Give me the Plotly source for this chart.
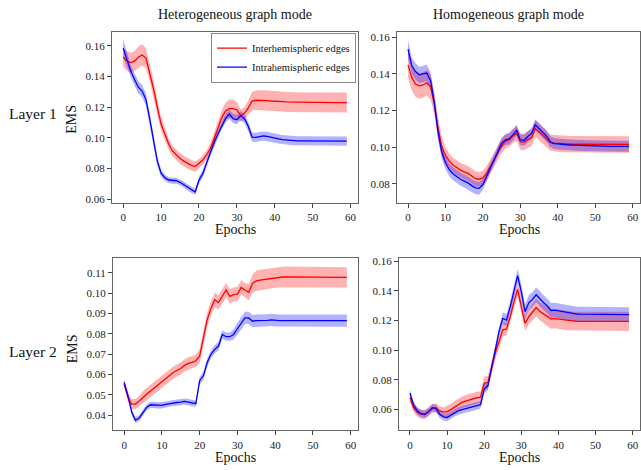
import plotly.graph_objects as go

epochs = list(range(60))

# ---------------- Layer 1, heterogeneous ----------------
l1_het_inter = [0.1525, 0.150, 0.149, 0.150, 0.1525, 0.154, 0.152, 0.1425, 0.132, 0.120,
                0.109, 0.1025, 0.096, 0.0915, 0.089, 0.0865, 0.0848, 0.0832, 0.082, 0.0813,
                0.0832, 0.0855, 0.0888, 0.093, 0.0995, 0.1065, 0.113, 0.1175, 0.119, 0.119,
                0.1183, 0.1145, 0.116, 0.1195, 0.124, 0.1245, 0.1245, 0.1245, 0.1243, 0.124,
                0.124, 0.1238, 0.1236, 0.1234, 0.1233, 0.1232, 0.1231, 0.1231, 0.1231, 0.1231,
                0.1231, 0.1231, 0.123, 0.123, 0.123, 0.123, 0.123, 0.123, 0.123, 0.123]
l1_het_inter_sd = [0.006, 0.0065, 0.0065, 0.0065, 0.007, 0.007, 0.0065, 0.006, 0.0055, 0.005,
                   0.0045, 0.004, 0.0035, 0.0035, 0.0035, 0.0035, 0.0035, 0.0035, 0.0035, 0.0035,
                   0.003, 0.003, 0.003, 0.0035, 0.004, 0.0045, 0.005, 0.0055, 0.006, 0.006,
                   0.005, 0.004, 0.004, 0.0045, 0.006, 0.0063, 0.0065, 0.0065, 0.0065, 0.0065,
                   0.0065, 0.0065, 0.0065, 0.0065, 0.0065, 0.0065, 0.0065, 0.0065, 0.0065, 0.0065,
                   0.0065, 0.0065, 0.0065, 0.0065, 0.0065, 0.0065, 0.0065, 0.0065, 0.0065, 0.0065]
l1_het_intra = [0.1585, 0.151, 0.1435, 0.138, 0.133, 0.1305, 0.125, 0.1125, 0.0975, 0.0848,
                0.077, 0.074, 0.0725, 0.072, 0.072, 0.071, 0.0695, 0.0678, 0.066, 0.0647,
                0.0725, 0.0765, 0.0835, 0.0905, 0.097, 0.1025, 0.108, 0.1125, 0.1155, 0.1125,
                0.1118, 0.1145, 0.1125, 0.1075, 0.1005, 0.1003, 0.1008, 0.1012, 0.101, 0.1003,
                0.0998, 0.0993, 0.0988, 0.0985, 0.0983, 0.0981, 0.098, 0.098, 0.098, 0.0979,
                0.0979, 0.0979, 0.0978, 0.0978, 0.0978, 0.0978, 0.0978, 0.0978, 0.0978, 0.0978]
l1_het_intra_sd = [0.006, 0.0045, 0.004, 0.004, 0.004, 0.004, 0.004, 0.0035, 0.003, 0.003,
                   0.0025, 0.002, 0.002, 0.002, 0.002, 0.002, 0.002, 0.002, 0.002, 0.002,
                   0.0025, 0.0025, 0.0025, 0.0025, 0.0025, 0.0025, 0.0025, 0.0028, 0.003, 0.003,
                   0.003, 0.003, 0.003, 0.003, 0.003, 0.003, 0.003, 0.003, 0.003, 0.003,
                   0.003, 0.003, 0.003, 0.003, 0.003, 0.003, 0.003, 0.003, 0.003, 0.003,
                   0.003, 0.003, 0.003, 0.003, 0.003, 0.003, 0.003, 0.003, 0.003, 0.003]

# ---------------- Layer 1, homogeneous ----------------
l1_hom_inter = [0.145, 0.138, 0.1345, 0.1335, 0.134, 0.1352, 0.133, 0.124, 0.1105, 0.1005,
                0.0955, 0.0925, 0.0903, 0.0888, 0.0875, 0.0865, 0.0857, 0.0843, 0.0828, 0.0825,
                0.0832, 0.0858, 0.0892, 0.093, 0.097, 0.1008, 0.1032, 0.104, 0.1062, 0.1075,
                0.103, 0.1028, 0.1042, 0.1052, 0.1102, 0.1085, 0.1065, 0.1045, 0.1025, 0.1022,
                0.102, 0.1018, 0.1017, 0.1016, 0.1016, 0.1016, 0.1016, 0.1016, 0.1016, 0.1015,
                0.1015, 0.1015, 0.1015, 0.1015, 0.1015, 0.1015, 0.1015, 0.1015, 0.1015, 0.1015]
l1_hom_inter_sd = [0.007, 0.007, 0.007, 0.007, 0.007, 0.007, 0.007, 0.006, 0.006, 0.0055,
                   0.0045, 0.004, 0.004, 0.004, 0.004, 0.004, 0.004, 0.004, 0.004, 0.004,
                   0.004, 0.004, 0.004, 0.004, 0.004, 0.004, 0.004, 0.004, 0.004, 0.004,
                   0.0045, 0.0045, 0.0045, 0.0045, 0.0045, 0.0045, 0.0045, 0.0045, 0.0045, 0.0045,
                   0.0045, 0.0045, 0.0045, 0.0045, 0.0045, 0.0045, 0.0045, 0.0045, 0.0045, 0.0045,
                   0.0045, 0.0045, 0.0045, 0.0045, 0.0045, 0.0045, 0.0045, 0.0045, 0.0045, 0.0045]
l1_hom_intra = [0.1535, 0.1445, 0.1413, 0.1395, 0.140, 0.1405, 0.1365, 0.1245, 0.1085, 0.0975,
                0.0915, 0.0877, 0.0855, 0.0838, 0.0825, 0.0815, 0.0805, 0.079, 0.0778, 0.0775,
                0.0796, 0.0841, 0.0886, 0.094, 0.0985, 0.1022, 0.104, 0.1045, 0.1067, 0.1092,
                0.104, 0.1038, 0.1058, 0.1075, 0.1122, 0.110, 0.108, 0.106, 0.103, 0.102,
                0.1018, 0.1015, 0.1013, 0.1012, 0.1011, 0.101, 0.1009, 0.1008, 0.1008, 0.1007,
                0.1007, 0.1006, 0.1006, 0.1006, 0.1005, 0.1005, 0.1005, 0.1005, 0.1005, 0.1005]
l1_hom_intra_sd = [0.005, 0.0045, 0.0045, 0.0045, 0.0045, 0.0045, 0.0045, 0.004, 0.004, 0.004,
                   0.0035, 0.0035, 0.0035, 0.0035, 0.0035, 0.0035, 0.0035, 0.0035, 0.0035, 0.0035,
                   0.003, 0.003, 0.003, 0.003, 0.003, 0.003, 0.003, 0.003, 0.003, 0.003,
                   0.003, 0.003, 0.003, 0.003, 0.003, 0.003, 0.003, 0.003, 0.003, 0.003,
                   0.003, 0.003, 0.003, 0.003, 0.003, 0.003, 0.003, 0.003, 0.003, 0.003,
                   0.003, 0.003, 0.003, 0.003, 0.003, 0.003, 0.003, 0.003, 0.003, 0.003]

# ---------------- Layer 2, heterogeneous ----------------
l2_het_inter = [0.0555, 0.049, 0.0455, 0.0455, 0.047, 0.049, 0.0505, 0.052, 0.0535, 0.055,
                0.0565, 0.058, 0.0595, 0.061, 0.062, 0.063, 0.0645, 0.0655, 0.066, 0.0668,
                0.069, 0.0775, 0.087, 0.0925, 0.0967, 0.0954, 0.0984, 0.1015, 0.0984, 0.0992,
                0.0995, 0.1028, 0.1015, 0.1004, 0.1047, 0.106, 0.1064, 0.1067, 0.1069, 0.1073,
                0.1076, 0.1078, 0.1079, 0.108, 0.108, 0.1079, 0.1078, 0.1078, 0.1078, 0.1078,
                0.1078, 0.1078, 0.1077, 0.1077, 0.1077, 0.1077, 0.1077, 0.1077, 0.1077, 0.1077]
l2_het_inter_sd = [0.002, 0.0025, 0.0025, 0.0025, 0.0025, 0.003, 0.003, 0.003, 0.003, 0.003,
                   0.003, 0.003, 0.003, 0.003, 0.003, 0.003, 0.003, 0.003, 0.003, 0.003,
                   0.0035, 0.0035, 0.0035, 0.0035, 0.0035, 0.0035, 0.0035, 0.0035, 0.0035, 0.0035,
                   0.0035, 0.0035, 0.0035, 0.004, 0.0045, 0.005, 0.005, 0.005, 0.005, 0.005,
                   0.005, 0.005, 0.005, 0.005, 0.005, 0.005, 0.005, 0.005, 0.005, 0.005,
                   0.005, 0.005, 0.005, 0.005, 0.005, 0.005, 0.005, 0.005, 0.005, 0.005]
l2_het_intra = [0.0562, 0.0497, 0.0416, 0.0376, 0.0387, 0.0416, 0.044, 0.0452, 0.0452, 0.0449,
                0.0449, 0.0454, 0.0458, 0.0462, 0.0463, 0.0465, 0.0468, 0.0465, 0.046, 0.0457,
                0.057, 0.0594, 0.0659, 0.070, 0.0724, 0.074, 0.0797, 0.0786, 0.0786, 0.0797,
                0.0825, 0.085, 0.0878, 0.0878, 0.0862, 0.0865, 0.0865, 0.0866, 0.0866, 0.0869,
                0.0866, 0.0865, 0.0865, 0.0865, 0.0865, 0.0865, 0.0865, 0.0865, 0.0865, 0.0865,
                0.0865, 0.0865, 0.0865, 0.0865, 0.0865, 0.0865, 0.0865, 0.0865, 0.0865, 0.0865]
l2_het_intra_sd = [0.0015, 0.0015, 0.0015, 0.0015, 0.0015, 0.0015, 0.0015, 0.0015, 0.0015, 0.0015,
                   0.0015, 0.0015, 0.0015, 0.0015, 0.0015, 0.0015, 0.0015, 0.0015, 0.0015, 0.0015,
                   0.002, 0.002, 0.002, 0.002, 0.002, 0.002, 0.002, 0.002, 0.002, 0.0025,
                   0.003, 0.003, 0.003, 0.003, 0.003, 0.003, 0.003, 0.003, 0.003, 0.003,
                   0.003, 0.003, 0.003, 0.003, 0.003, 0.003, 0.003, 0.003, 0.003, 0.003,
                   0.003, 0.003, 0.003, 0.003, 0.003, 0.003, 0.003, 0.003, 0.003, 0.003]

# ---------------- Layer 2, homogeneous ----------------
l2_hom_inter = [0.068, 0.0611, 0.0582, 0.0569, 0.0567, 0.0585, 0.0607, 0.0613, 0.0591, 0.0585,
                0.0585, 0.060, 0.0618, 0.0635, 0.0649, 0.0658, 0.0666, 0.0673, 0.068, 0.0684,
                0.0777, 0.0784, 0.0883, 0.0983, 0.106, 0.1138, 0.1144, 0.1226, 0.1326, 0.141,
                0.1292, 0.1182, 0.1226, 0.126, 0.1288, 0.1262, 0.1245, 0.1228, 0.121, 0.1213,
                0.121, 0.1205, 0.120, 0.1198, 0.1195, 0.1195, 0.1195, 0.1195, 0.1195, 0.1195,
                0.1195, 0.1195, 0.1195, 0.1195, 0.1195, 0.1195, 0.1195, 0.1195, 0.1195, 0.1195]
l2_hom_inter_sd = [0.003, 0.003, 0.003, 0.003, 0.003, 0.003, 0.003, 0.003, 0.003, 0.003,
                   0.004, 0.004, 0.004, 0.004, 0.004, 0.004, 0.004, 0.004, 0.004, 0.004,
                   0.0045, 0.0045, 0.0045, 0.0045, 0.0045, 0.0045, 0.0045, 0.0045, 0.0045, 0.0045,
                   0.005, 0.005, 0.005, 0.0055, 0.006, 0.006, 0.0065, 0.0065, 0.0065, 0.0065,
                   0.0065, 0.0065, 0.0065, 0.0065, 0.0065, 0.0065, 0.0065, 0.0065, 0.0065, 0.0065,
                   0.0065, 0.0065, 0.0065, 0.0065, 0.0065, 0.0065, 0.0065, 0.0065, 0.0065, 0.0065]
l2_hom_intra = [0.0711, 0.0629, 0.0591, 0.0573, 0.0569, 0.0585, 0.0613, 0.0607, 0.0569, 0.0551,
                0.0547, 0.0562, 0.0578, 0.0591, 0.060, 0.0607, 0.0611, 0.0618, 0.0624, 0.0633,
                0.0739, 0.0762, 0.0883, 0.1016, 0.1127, 0.1215, 0.1204, 0.1292, 0.1392, 0.1503,
                0.1392, 0.126, 0.132, 0.1343, 0.1374, 0.1345, 0.132, 0.1298, 0.1268, 0.127,
                0.1265, 0.126, 0.1255, 0.125, 0.1245, 0.1244, 0.1243, 0.1243, 0.1242, 0.1242,
                0.1241, 0.1241, 0.1241, 0.124, 0.124, 0.124, 0.124, 0.124, 0.124, 0.124]
l2_hom_intra_sd = [0.0025, 0.0025, 0.0025, 0.0025, 0.0025, 0.0025, 0.0025, 0.0025, 0.0025, 0.0025,
                   0.0025, 0.0025, 0.0025, 0.0025, 0.0025, 0.0025, 0.0025, 0.0025, 0.0025, 0.0025,
                   0.003, 0.003, 0.003, 0.003, 0.003, 0.004, 0.004, 0.004, 0.004, 0.0045,
                   0.005, 0.005, 0.005, 0.005, 0.005, 0.005, 0.005, 0.005, 0.005, 0.005,
                   0.005, 0.005, 0.005, 0.005, 0.005, 0.005, 0.005, 0.005, 0.005, 0.005,
                   0.005, 0.005, 0.005, 0.005, 0.005, 0.005, 0.005, 0.005, 0.005, 0.005]

series_names = ["Interhemispheric edges", "Intrahemispheric edges"]
col_titles = ["Heterogeneous graph mode", "Homogeneous graph mode"]
row_titles = ["Layer 1", "Layer 2"]

panels = [
    (l1_het_inter, l1_het_inter_sd, l1_het_intra, l1_het_intra_sd),
    (l1_hom_inter, l1_hom_inter_sd, l1_hom_intra, l1_hom_intra_sd),
    (l2_het_inter, l2_het_inter_sd, l2_het_intra, l2_het_intra_sd),
    (l2_hom_inter, l2_hom_inter_sd, l2_hom_intra, l2_hom_intra_sd),
]

W, H = 641, 470
# panel pixel boxes (left, right, top, bottom)
boxes = [(112, 358, 29, 202), (397, 640, 29, 202), (113, 358, 258, 432), (399, 640, 258, 432)]
yranges = [[0.0576, 0.1692], [0.0696, 0.1631], [0.0326, 0.1171], [0.046, 0.162]]
ytickvals = [[0.06, 0.08, 0.10, 0.12, 0.14, 0.16],
             [0.08, 0.10, 0.12, 0.14, 0.16],
             [0.04, 0.05, 0.06, 0.07, 0.08, 0.09, 0.10, 0.11],
             [0.06, 0.08, 0.10, 0.12, 0.14, 0.16]]

RED = "rgb(255,0,0)"
BLUE = "rgb(0,0,255)"
RED_F = "rgba(255,0,0,0.3)"
BLUE_F = "rgba(0,0,255,0.3)"
FONT = "Liberation Serif"

fig = go.Figure()
layout = {}
for i, (rm, rs, bm, bs) in enumerate(panels):
    ax = "" if i == 0 else str(i + 1)
    xa, ya = "x" + ax, "y" + ax
    for mean, sd, fc in ((rm, rs, RED_F), (bm, bs, BLUE_F)):
        up = [m + s for m, s in zip(mean, sd)]
        lo = [m - s for m, s in zip(mean, sd)]
        fig.add_trace(go.Scatter(x=epochs + epochs[::-1], y=up + lo[::-1], fill="toself",
                                 fillcolor=fc, line=dict(width=0), mode="lines",
                                 hoverinfo="skip", showlegend=False, xaxis=xa, yaxis=ya))
    for k, (mean, lc) in enumerate(((rm, RED), (bm, BLUE))):
        fig.add_trace(go.Scatter(x=epochs, y=mean, mode="lines", line=dict(color=lc, width=1.3),
                                 name=series_names[k], showlegend=(i == 0),
                                 xaxis=xa, yaxis=ya))
    l, r, t, b = boxes[i]
    common = dict(showgrid=False, zeroline=False, showline=True, linecolor="#666", linewidth=1,
                  mirror=True, ticks="outside", ticklen=4, tickcolor="#444",
                  tickfont=dict(family=FONT, size=11, color="#222"))
    layout["xaxis" + ax] = dict(domain=[l / W, r / W], range=[-2.95, 61.95],
                                tickvals=[0, 10, 20, 30, 40, 50, 60], anchor=ya, **common)
    layout["yaxis" + ax] = dict(domain=[1 - b / H, 1 - t / H], range=yranges[i],
                                tickvals=ytickvals[i], tickformat=".2f", anchor=xa, **common)

ann = []
ann.append(dict(text=col_titles[0], x=235 / W, y=1 - 12 / H, size=14))
ann.append(dict(text=col_titles[1], x=508 / W, y=1 - 12 / H, size=14))
ann.append(dict(text=row_titles[0], x=33 / W, y=1 - 112 / H, size=15.5))
ann.append(dict(text=row_titles[1], x=33 / W, y=1 - 352 / H, size=15.5))
ann.append(dict(text="EMS", x=72 / W, y=1 - 118 / H, textangle=-90, size=14))
ann.append(dict(text="EMS", x=72 / W, y=1 - 350 / H, textangle=-90, size=14))
ann.append(dict(text="Epochs", x=235 / W, y=1 - 229 / H, size=14))
ann.append(dict(text="Epochs", x=519 / W, y=1 - 229 / H, size=14))
ann.append(dict(text="Epochs", x=235 / W, y=1 - 459 / H, size=14))
ann.append(dict(text="Epochs", x=519 / W, y=1 - 459 / H, size=14))
for a in ann:
    sz = a.pop("size")
    a.update(xref="paper", yref="paper", showarrow=False, xanchor="center", yanchor="middle",
             font=dict(family=FONT, size=sz, color="#111"))

fig.update_layout(
    width=W, height=H, margin=dict(l=0, r=0, t=0, b=0),
    font=dict(family=FONT, color="#222"),
    paper_bgcolor="white", plot_bgcolor="white",
    annotations=ann,
    legend=dict(x=356 / W, y=1 - 30 / H, xanchor="right", yanchor="top",
                bgcolor="white", bordercolor="#888", borderwidth=1,
                font=dict(family=FONT, size=10.5, color="#111"), tracegroupgap=0),
    **layout,
)

fig.write_html("out.html")
